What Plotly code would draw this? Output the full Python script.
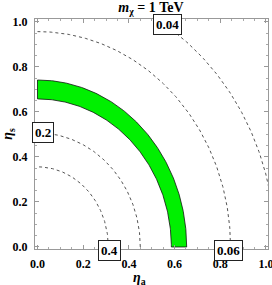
import numpy as np
import plotly.graph_objects as go

# contour levels and their ellipse semi-axes
levels = ["0.4", "0.2", "0.06", "0.04"]
eta_a_axis = [0.31, 0.45, 0.845, 1.04]
eta_s_axis = [0.356, 0.507, 0.957, 1.17]
# label positions (eta_a, eta_s)
label_a = [0.317, 0.024, 0.838, 0.567]
label_s = [0.0, 0.509, 0.0, 0.99]
label_shift = [-4, 0, -4, 0]

# green band: inner and outer semi-axes
band_inner = [0.586, 0.658]
band_outer = [0.653, 0.742]

x_ticks = [0.0, 0.2, 0.4, 0.6, 0.8, 1.0]
y_ticks = [0.0, 0.2, 0.4, 0.6, 0.8, 1.0]

FONT = "Liberation Serif"
t = np.linspace(0, np.pi / 2, 200)

fig = go.Figure()

# band
xo = band_outer[0] * np.cos(t)
yo = band_outer[1] * np.sin(t)
xi = band_inner[0] * np.cos(t[::-1])
yi = band_inner[1] * np.sin(t[::-1])
fig.add_trace(go.Scatter(
    x=np.concatenate([xo, xi, xo[:1]]), y=np.concatenate([yo, yi, yo[:1]]),
    mode="lines", fill="toself", fillcolor="#00f000",
    line=dict(color="#111111", width=0.8), hoverinfo="skip", showlegend=False))

for lv, a, b in zip(levels, eta_a_axis, eta_s_axis):
    fig.add_trace(go.Scatter(
        x=a * np.cos(t), y=b * np.sin(t), mode="lines",
        line=dict(color="#555555", width=1, dash="3px,3px"),
        hoverinfo="skip", showlegend=False))

for lv, xa, ys, sh in zip(levels, label_a, label_s, label_shift):
    fig.add_annotation(x=xa, y=ys, xref="x", yref="y", text="<b>%s</b>" % lv,
                       showarrow=False, bgcolor="white", bordercolor="#222222",
                       borderwidth=1, borderpad=2, yshift=sh,
                       font=dict(family=FONT, size=13, color="black"))

# x-axis title as annotation for exact placement
fig.add_annotation(x=0.45, y=-0.13, xref="paper", yref="paper",
                   text="<b><i>η</i><sub>a</sub></b>", showarrow=False,
                   xanchor="center", yanchor="middle",
                   font=dict(family=FONT, size=14, color="black"))

axis_common = dict(
    showgrid=False, zeroline=False, showline=True, linecolor="#999999", linewidth=1,
    mirror="ticks", ticks="inside", ticklen=4, tickcolor="#999999", automargin=False,
    ticklabeloverflow="allow",
    tickfont=dict(family=FONT, size=12, color="black"),
    minor=dict(ticks="inside", ticklen=2, tickcolor="#aaaaaa", dtick=0.05),
)

fig.update_layout(
    width=272, height=285,
    margin=dict(l=35, r=4, t=19, b=36),
    paper_bgcolor="white", plot_bgcolor="white",
    title=dict(text="<b><i>m</i><sub>χ</sub> = 1 TeV</b>", x=0.555, xanchor="center",
               y=0.975, yanchor="middle", pad=dict(t=0, b=0),
               font=dict(family=FONT, size=14, color="black")),
    xaxis=dict(range=[-0.011, 1.009], tickvals=x_ticks,
               ticktext=["<b>%.1f</b>" % v for v in x_ticks],
               ticklabelstandoff=4,
               **axis_common),
    yaxis=dict(range=[-0.009, 1.013], tickvals=y_ticks,
               ticktext=["<b>%.1f</b>" % v for v in y_ticks],
               ticklabelstandoff=4,
               title=dict(text="<b><i>η</i><sub>s</sub></b>", standoff=2,
                          font=dict(family=FONT, size=14, color="black")),
               **axis_common),
)

fig.write_html("out.html", config=dict(displayModeBar=False),
               post_script="document.body.style.margin='0';document.body.style.overflow='hidden';")
